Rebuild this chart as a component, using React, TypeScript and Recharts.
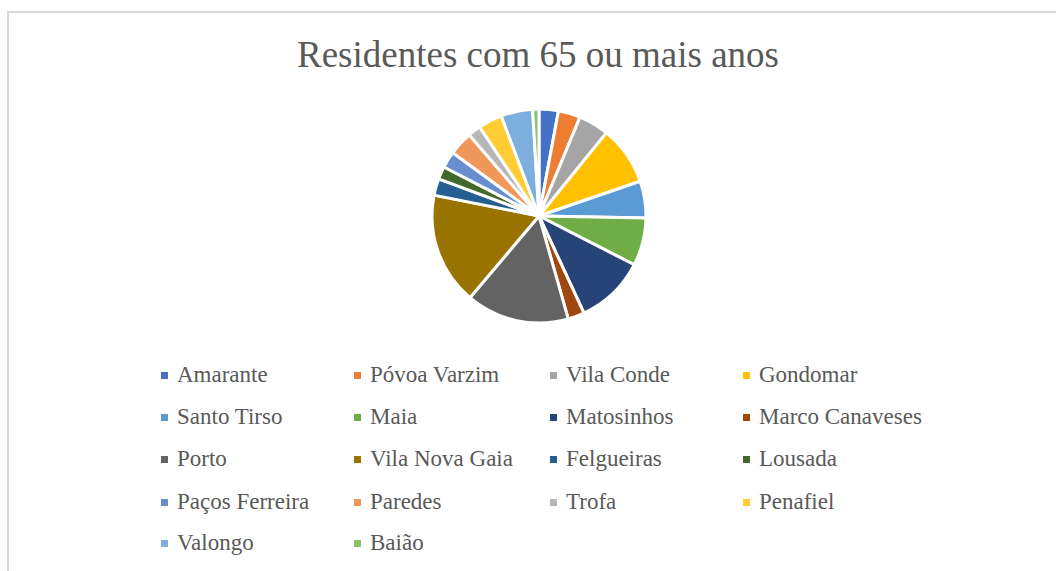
import React from "react"
import { PieChart, Pie, Cell, Legend } from "recharts"

// municipalities, in the order Excel draws them (clockwise from 12 o'clock)
const municipios = [
  "Amarante",
  "Póvoa Varzim",
  "Vila Conde",
  "Gondomar",
  "Santo Tirso",
  "Maia",
  "Matosinhos",
  "Marco Canaveses",
  "Porto",
  "Vila Nova Gaia",
  "Felgueiras",
  "Lousada",
  "Paços Ferreira",
  "Paredes",
  "Trofa",
  "Penafiel",
  "Valongo",
  "Baião",
]

// residents aged 65+
const residentes = [
  9450, 10800, 14850, 28800, 18000, 23400, 34200, 8100, 50400, 54900, 8100, 6300, 8100,
  11700, 6300, 11700, 15500, 3100,
]

// Office palette: six accents, then darker 50%, then lighter 40%
const cores = [
  "#4472C4", "#ED7D31", "#A5A5A5", "#FFC000", "#5B9BD5", "#70AD47",
  "#264478", "#9E480E", "#636363", "#997300", "#255E91", "#43682B",
  "#698ED0", "#F1975A", "#B7B7B7", "#FFCD33", "#7CAFDD", "#8CC168",
]

const data = municipios.map((name, i) => ({ name, value: residentes[i], color: cores[i] }))

const FONT = "'Times New Roman', 'Liberation Serif', Times, serif"
const TEXT = "#595959"

const colX = [161, 354, 550, 743]
const rowY = [354, 396, 438, 481, 522]

function LegendGrid() {
  return (
    <div style={{ position: "absolute", left: 0, top: 0, width: 1056, height: 571, pointerEvents: "none" }}>
      {data.map((d, i) => {
        const col = i % 4
        const row = Math.floor(i / 4)
        return (
          <div
            key={d.name}
            style={{
              position: "absolute",
              left: colX[col],
              top: rowY[row],
              height: 42,
              display: "flex",
              alignItems: "center",
              fontFamily: FONT,
              fontSize: 23,
              color: TEXT,
              whiteSpace: "nowrap",
            }}
          >
            <span style={{ width: 7, height: 7, background: d.color, display: "inline-block", marginRight: 9 }} />
            {d.name}
          </div>
        )
      })}
    </div>
  )
}

export default function App() {
  return (
    <div style={{ position: "absolute", left: 0, top: 0, width: 1056, height: 571, background: "#fff", overflow: "hidden" }}>
      <div
        style={{
          position: "absolute",
          left: 7,
          top: 11,
          width: 1100,
          height: 600,
          border: "2px solid #d9d9d9",
          boxSizing: "border-box",
        }}
      />
      <div
        style={{
          position: "absolute",
          left: 0,
          top: 30,
          width: 1076,
          textAlign: "center",
          fontFamily: FONT,
          fontSize: 37,
          color: TEXT,
          lineHeight: "50px",
        }}
      >
        Residentes com 65 ou mais anos
      </div>
      <div style={{ position: "absolute", left: 0, top: 0 }}>
        <PieChart width={1056} height={571}>
          <Pie
            data={data}
            dataKey="value"
            nameKey="name"
            cx={534}
            cy={211}
            outerRadius={107}
            startAngle={90}
            endAngle={-270}
            stroke="#ffffff"
            strokeWidth={3}
            isAnimationActive={false}
          >
            {data.map((d) => (
              <Cell key={d.name} fill={d.color} />
            ))}
          </Pie>
          <Legend content={() => null} />
        </PieChart>
      </div>
      <LegendGrid />
    </div>
  )
}
